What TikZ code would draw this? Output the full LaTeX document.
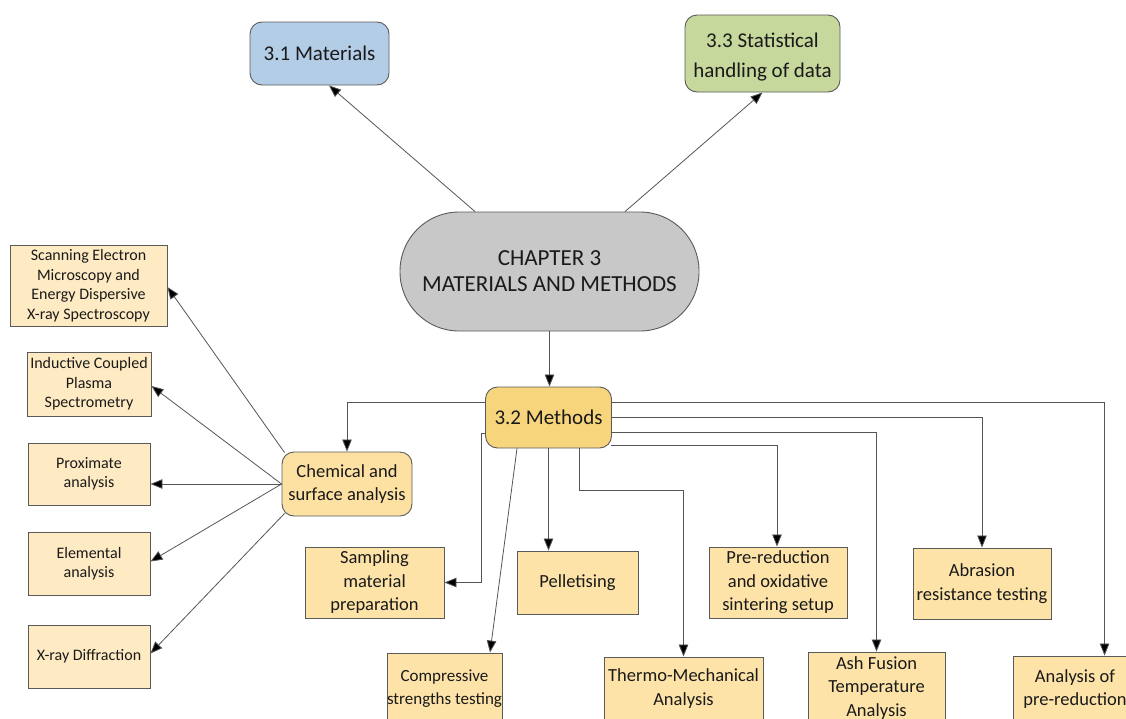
\documentclass[tikz,border=0pt]{standalone}
\usepackage{fontspec}
\setmainfont{Carlito}
\usetikzlibrary{arrows.meta,calc}

\definecolor{edgegray}{HTML}{5A5A5A}
\definecolor{wiregray}{HTML}{555555}
\definecolor{txtcol}{HTML}{1A1A1A}
\definecolor{matblue}{HTML}{B4CDE7}
\definecolor{statgreen}{HTML}{C6D89C}
\definecolor{chapgray}{HTML}{C8C8C8}
\definecolor{methgold}{HTML}{F7D57C}
\definecolor{chemfill}{HTML}{FDE1A3}
\definecolor{taskfill}{HTML}{FDE3A8}
\definecolor{leaffill}{HTML}{FFEBC3}

\begin{document}
\begin{tikzpicture}[x=1pt,y=-1pt,
  base/.style={draw=edgegray, line width=0.9pt, inner sep=0pt, align=center, text=txtcol},
  head/.style={base, rounded corners=12pt, font=\fontsize{21}{30}\selectfont},
  midbox/.style={base, font=\fontsize{18.5}{23.5}\selectfont},
  leaf/.style={base, fill=leaffill, font=\fontsize{16}{19.5}\selectfont},
  task/.style={midbox, fill=taskfill},
  wire/.style={draw=wiregray, line width=0.8pt, -{Triangle[length=12pt,width=9.5pt,fill=black]}}
]
\useasboundingbox (0,0) rectangle (1126,718);
\clip (0,0) rectangle (1126,718);

% top level
\node[head, fill=matblue, minimum width=139pt, minimum height=63pt] (mat) at (319.5,53.5) {3.1 Materials};
\node[head, fill=statgreen, minimum width=155pt, minimum height=77pt] (stat) at (762.5,53.5) {\rule{0pt}{22pt}3.3 Statistical\\handling of data};
\node[base, fill=chapgray, rounded corners=59pt, minimum width=299pt, minimum height=119pt,
      font=\fontsize{23}{26}\selectfont] (chap) at (549.5,271.5) {CHAPTER 3\\MATERIALS AND METHODS};

% methods and sub-groups
\node[head, fill=methgold, minimum width=126pt, minimum height=61pt] (meth) at (548.5,417.5) {3.2 Methods};
\node[midbox, fill=chemfill, rounded corners=12pt, minimum width=130pt, minimum height=64pt] (chem) at (347,484) {Chemical and\\surface analysis};

% analysis techniques
\node[leaf, minimum width=157pt, minimum height=81pt] (sem) at (88.5,285.5) {Scanning Electron\\Microscopy and\\Energy Dispersive\\X-ray Spectroscopy};
\node[leaf, minimum width=124pt, minimum height=64pt] (icp) at (89,384) {Inductive Coupled\\Plasma\\Spectrometry};
\node[leaf, minimum width=122pt, minimum height=62pt] (prox) at (89,474) {Proximate\\analysis};
\node[leaf, minimum width=122pt, minimum height=63pt] (elem) at (89,563.5) {Elemental\\analysis};
\node[leaf, minimum width=122pt, minimum height=63pt] (xrd) at (89,656.5) {X-ray Diffraction};

% experimental steps
\node[task, minimum width=139pt, minimum height=71pt] (samp) at (374.5,582.5) {Sampling\\material\\preparation};
\node[task, minimum width=121pt, minimum height=63pt] (pell) at (577.5,582.5) {Pelletising};
\node[task, minimum width=138pt, minimum height=71pt] (prered) at (778,582.5) {Pre-reduction\\and oxidative\\sintering setup};
\node[task, minimum width=138pt, minimum height=71pt] (abr) at (982,583.5) {Abrasion\\resistance testing};
\node[task, minimum width=111pt, minimum height=71pt, font=\fontsize{17}{23}\selectfont] (comp) at (444.5,688.5) {Compressive\\strengths testing};
\node[task, minimum width=159pt, minimum height=63pt] (thermo) at (683.5,688.5) {Thermo-Mechanical\\Analysis};
\node[task, minimum width=137pt, minimum height=72pt] (ash) at (876.5,688) {Ash Fusion\\Temperature\\Analysis};
\node[task, minimum width=124pt, minimum height=66pt] (anal) at (1075,689) {Analysis of\\pre-reduction};

% chapter to sections
\draw[wire] ($(chap.north)+(-74.5,0)$) -- ($(mat.south)+(9.5,0)$);
\draw[wire] ($(chap.north)+(75.5,0)$) -- (stat.south);
\draw[wire] (chap.south) -- (chap.south |- meth.north);

% methods to its branches
\draw[wire] ($(meth.north west)+(0,16)$) -| (chem.north);
\draw[wire] ($(meth.north east)+(0,16)$) -| ($(anal.north west)+(92,0)$);
\draw[wire] (meth.east) -| (abr.north);
\draw[wire] ($(meth.north east)+(0,46)$) -| (ash.north);
\draw[wire] ($(meth.south east)+(-1,-3)$) -| ($(prered.north)+(-1,0)$);
\draw[wire] ($(meth.north west)+(0,47)$) -- ++(-3.5,0) |- (samp.east);
\draw[wire] ($(meth.south)+(-31.5,0)$) -- ($(comp.north)+(45.5,0)$);
\draw[wire] (meth.south) -- (meth.south |- pell.north);
\draw[wire] ($(meth.south)+(31,0)$) -- ++(0,42) -| (thermo.north);

% chemical and surface analysis to techniques
\draw[wire] ($(chem.north west)+(3,1)$) -- ($(sem.east)+(0,1.5)$);
\draw[wire] (chem.west) -- ($(icp.east)+(0,2)$);
\draw[wire] (chem.west) -- (chem.west -| prox.east);
\draw[wire] (chem.west) -- ($(elem.east)+(0,-2)$);
\draw[wire] ($(chem.south west)+(3,-3)$) -- ($(xrd.east)+(0,-3)$);
\end{tikzpicture}
\end{document}
